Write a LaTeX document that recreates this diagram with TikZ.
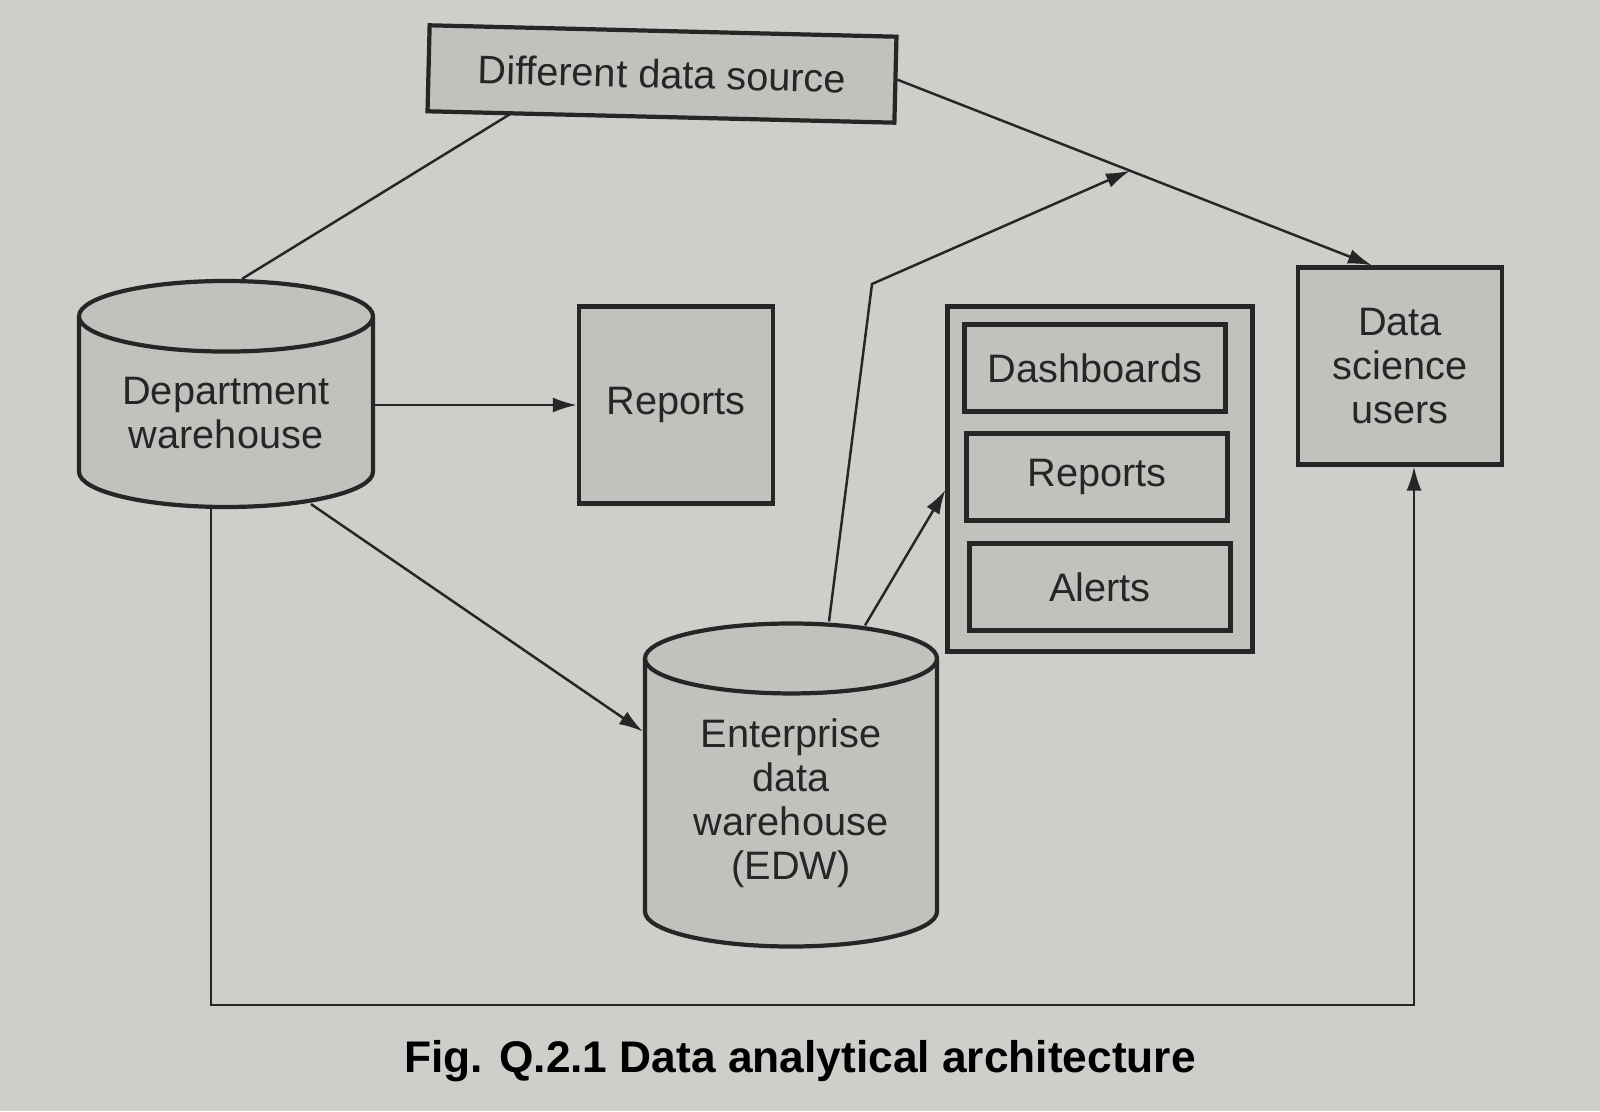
\documentclass[tikz,border=0pt]{standalone}
\usepackage{fontspec}
\setmainfont{Liberation Sans}
\usetikzlibrary{arrows.meta, shapes.geometric, calc}

\definecolor{paper}{RGB}{206,206,203}
\definecolor{boxgray}{RGB}{193,193,190}

\begin{document}
\begin{tikzpicture}[
    every node/.style={font=\fontsize{11.3}{12.5}\selectfont, align=center, text=black!85},
    >={Latex[length=2.4mm, width=1.5mm]},
    box/.style={draw=black!85, line width=1.2pt, fill=boxgray, inner sep=0pt},
    cyl/.style={box, cylinder, shape border rotate=90, aspect=0.34},
    conn/.style={line width=0.7pt, black!85},
]

% === Paper ===
\fill[paper] (0,0) rectangle (16,11.11);
\useasboundingbox (0,0) rectangle (16,11.11);

% === Sources and warehouses ===
\node[box, minimum width=4.67cm, minimum height=0.86cm, rotate=-1.4] (src) at (6.62,10.37) {Different data source};
\node[cyl, minimum width=2.94cm, minimum height=2.26cm, anchor=shape center] (dw) at (2.26,7.17) {Department\\warehouse};
\node[box, minimum width=1.94cm, minimum height=1.97cm] (rep) at (6.76,7.06) {Reports};
\node[cyl, aspect=0.36, minimum width=2.92cm, minimum height=3.23cm, anchor=shape center] (edw) at (7.91,3.26) {Enterprise\\data\\warehouse\\(EDW)};

% === Output panel ===
\node[box, minimum width=3.05cm, minimum height=3.45cm] (panel) at (11.00,6.32) {};
\node[box, minimum width=2.61cm, minimum height=0.87cm] (dash) at (10.95,7.43) {Dashboards};
\node[box, minimum width=2.61cm, minimum height=0.87cm] (rep2) at (10.97,6.34) {Reports};
\node[box, minimum width=2.61cm, minimum height=0.87cm] (alert) at (11.00,5.24) {Alerts};

% === Users ===
\node[box, minimum width=2.04cm, minimum height=1.97cm] (dsu) at (14.00,7.45) {Data\\science\\users};

% === Caption ===
\node[font=\fontsize{12.6}{15}\selectfont\bfseries, text=black] (cap) at (8.00,0.50) {Fig. Q.2.1 Data analytical architecture};

% === Connectors ===
\draw[conn] ([xshift=0.16cm]dw.top) -- ([xshift=0.86cm]src.south west);
\draw[conn, ->] (src.east) -- ([xshift=-0.28cm]dsu.north);
\coordinate (meet) at ($(src.east)!0.49!([xshift=-0.28cm]dsu.north)$);
\coordinate (bend) at (8.72,8.27);
\draw[conn, ->] ([xshift=0.38cm]edw.top) -- (bend) -- (meet);
\draw[conn, ->] ([xshift=0.74cm, yshift=-0.04cm]edw.top) -- ([yshift=-0.11cm]panel.west);
\draw[conn, ->] (dw.east |- rep.west) -- (rep.west);
\draw[conn, ->] ([xshift=0.85cm, yshift=0.05cm]dw.bottom) -- ([yshift=0.72cm]edw.west);
\draw[conn, ->] ([xshift=-0.15cm]dw.bottom) -- ++(0,-4.96) -| ([xshift=0.14cm]dsu.south);

\end{tikzpicture}
\end{document}
